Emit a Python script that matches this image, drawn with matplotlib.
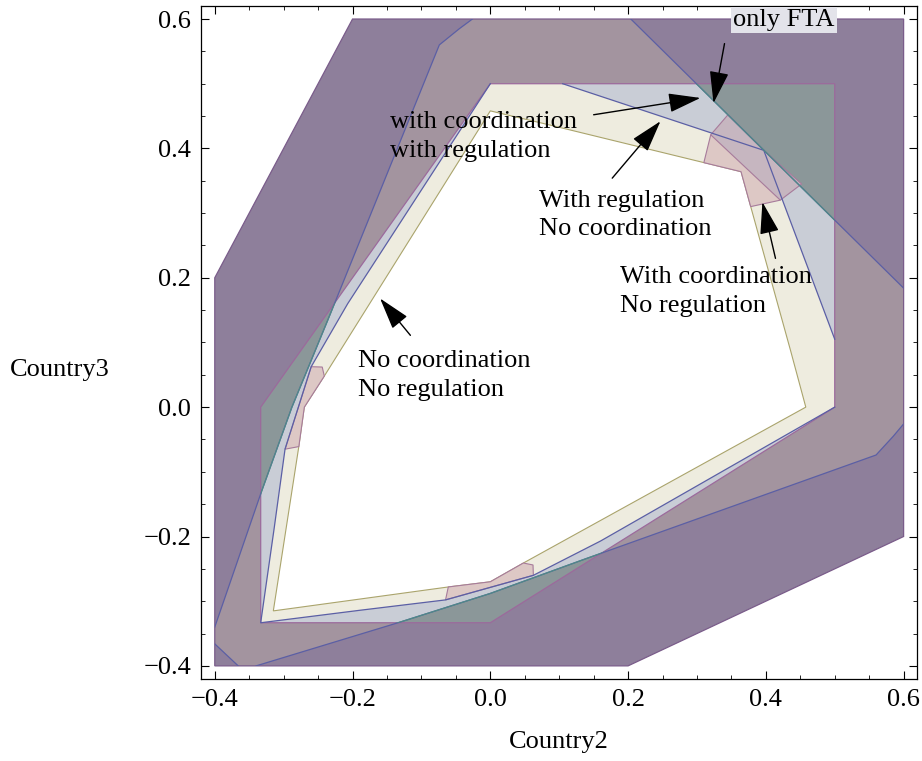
import numpy as np
import matplotlib.pyplot as plt
from matplotlib.patches import Polygon
from matplotlib.ticker import MultipleLocator, FuncFormatter

plt.rcParams['font.family'] = ['Liberation Serif', 'DejaVu Serif']

# outer feasible set (Country2, Country3)
outer_x = [-0.4, 0.2, 0.6, 0.6, -0.2, -0.4]
outer_y = [-0.4, -0.4, -0.2, 0.6, 0.6, 0.2]

# inner hexagon
hex_x = [-1/3, 0.0, 0.5, 0.5, 0.0, -1/3]
hex_y = [-1/3, -1/3, 0.0, 0.5, 0.5, 0.0]

# FTA region: left curve, top, FTA line, right edge, bottom curve, corner cut
fta_x = [-0.4, -0.333, -0.288, -0.235, -0.074, -0.045, -0.026, 0.204, 0.6, 0.6,
         0.585, 0.56, 0.137, 0.0, -0.133, -0.34, -0.366, -0.4]
fta_y = [-0.34, -0.133, 0.0, 0.137, 0.56, 0.585, 0.6, 0.6, 0.184, -0.026,
         -0.045, -0.074, -0.235, -0.288, -0.333, -0.4, -0.4, -0.366]

# regulation band (outer edge)
band_x = [0.0, 0.105, 0.397, 0.5, 0.5, 0.16, 0.0625, -0.065, -0.189, -1/3,
          -0.314, -0.298, -0.26, -0.207]
band_y = [0.5, 0.5, 0.397, 0.105, 0.0, -0.207, -0.26, -0.298, -0.314, -1/3,
          -0.189, -0.065, 0.0625, 0.16]

# no coordination / no regulation region
nn_x = [-0.315, -0.061, 0.0, 0.048, 0.458, 0.436, 0.364, 0.087, 0.0, -0.241, -0.270, -0.278]
nn_y = [-0.315, -0.278, -0.270, -0.241, 0.0, 0.087, 0.364, 0.436, 0.458, 0.048, 0.0, -0.061]

# coordination without regulation patches
pink_bot_x = [-0.061, 0.0, 0.048, 0.062, 0.0625, -0.065]
pink_bot_y = [-0.278, -0.270, -0.241, -0.244, -0.26, -0.298]
pink_left_x = [-0.278, -0.270, -0.241, -0.244, -0.26, -0.298]
pink_left_y = [-0.061, 0.0, 0.048, 0.062, 0.0625, -0.065]
pink_tr_x = [0.364, 0.310, 0.320, 0.397, 0.421, 0.378]
pink_tr_y = [0.364, 0.378, 0.421, 0.397, 0.320, 0.310]
mauve_tr_x = [0.320, 0.345, 0.397, 0.452, 0.421]
mauve_tr_y = [0.421, 0.452, 0.397, 0.345, 0.320]

fig = plt.figure(figsize=(9.22, 7.61), dpi=100)
ax = fig.add_axes([0.218, 0.108, 0.777, 0.884])

c_dark = '#8e7f9b'
c_mauve = '#a3949f'
c_green = '#8b9799'
c_light = '#c9cdd6'
c_beige = '#eeecdf'
c_pink = '#ddc8c5'
c_pmauve = '#c6b6c0'

out_p = Polygon(np.column_stack([outer_x, outer_y]), closed=True, fc=c_dark, ec='none', zorder=1)
ax.add_patch(out_p)
r1 = Polygon(np.column_stack([fta_x, fta_y]), closed=True, fc=c_mauve, ec='none', zorder=2)
ax.add_patch(r1)
r1.set_clip_path(out_p)
hex_p = Polygon(np.column_stack([hex_x, hex_y]), closed=True, fc=c_green, ec='none', zorder=3)
ax.add_patch(hex_p)
r2 = Polygon(np.column_stack([fta_x, fta_y]), closed=True, fc=c_light, ec='none', zorder=4)
ax.add_patch(r2)
r2.set_clip_path(hex_p)
ax.add_patch(Polygon(np.column_stack([band_x, band_y]), closed=True, fc=c_beige, ec='none', zorder=5))
ax.add_patch(Polygon(np.column_stack([nn_x, nn_y]), closed=True, fc='white', ec='#aaa46c', lw=0.8, zorder=6))
for px, py, c in [(pink_bot_x, pink_bot_y, c_pink), (pink_left_x, pink_left_y, c_pink),
                  (pink_tr_x, pink_tr_y, c_pink), (mauve_tr_x, mauve_tr_y, c_pmauve)]:
    ax.add_patch(Polygon(np.column_stack([px, py]), closed=True, fc=c, ec='#a77b9b', lw=0.8, zorder=7))

# boundary lines
ax.add_patch(Polygon(np.column_stack([outer_x, outer_y]), closed=True, fill=False, ec='#7a5c8a', lw=0.9, zorder=8))
ax.add_patch(Polygon(np.column_stack([hex_x, hex_y]), closed=True, fill=False, ec='#9c6a9c', lw=0.9, zorder=8))

blue = '#5b5fa5'
left_curve = (fta_x[:7], fta_y[:7])
fta_line = (fta_x[7:9], fta_y[7:9])
bot_curve = (fta_x[9:16], fta_y[9:16])
corner_cut = ([fta_x[16], fta_x[17]], [fta_y[16], fta_y[17]])
for lx, ly in [left_curve, fta_line, bot_curve, corner_cut]:
    ln, = ax.plot(lx, ly, color=blue, lw=0.9, zorder=8)
    ln.set_clip_path(out_p)
    ln2, = ax.plot(lx, ly, color='#4f8a86', lw=0.9, zorder=8.5)
    ln2.set_clip_path(hex_p)

ax.plot(band_x[1:4], band_y[1:4], color=blue, lw=0.9, zorder=8)
ax.plot(band_x[4:] + band_x[:1], band_y[4:] + band_y[:1], color=blue, lw=0.9, zorder=8)

# labels with arrows
fs = 19
arw = dict(arrowstyle='-|>,head_length=1.0,head_width=0.3', color='black', lw=1.0,
           mutation_scale=20, shrinkA=0, shrinkB=0)
ax.text(0.426, 0.598, 'only FTA', fontsize=fs, ha='center', va='center', zorder=10,
        bbox=dict(fc='#e3e3ea', ec='none', pad=1.5))
ax.annotate('', xy=(0.324, 0.470), xytext=(0.340, 0.562), arrowprops=arw, zorder=10)

ax.text(-0.145, 0.419, 'with coordination\nwith regulation', fontsize=fs, ha='left', va='center',
        linespacing=1.4, zorder=10)
ax.annotate('', xy=(0.305, 0.478), xytext=(0.150, 0.452), arrowprops=arw, zorder=10)

ax.text(0.070, 0.297, 'With regulation\nNo coordination', fontsize=fs, ha='left', va='center',
        linespacing=1.4, zorder=10)
ax.annotate('', xy=(0.247, 0.442), xytext=(0.177, 0.354), arrowprops=arw, zorder=10)

ax.text(0.189, 0.179, 'With coordination\nNo regulation', fontsize=fs, ha='left', va='center',
        linespacing=1.4, zorder=10)
ax.annotate('', xy=(0.395, 0.317), xytext=(0.414, 0.230), arrowprops=arw, zorder=10)

ax.text(-0.192, 0.049, 'No coordination\nNo regulation', fontsize=fs, ha='left', va='center',
        linespacing=1.4, zorder=10)
ax.annotate('', xy=(-0.160, 0.168), xytext=(-0.116, 0.111), arrowprops=arw, zorder=10)

ax.set_xlim(-0.42, 0.62)
ax.set_ylim(-0.42, 0.62)
tick_fmt = FuncFormatter(lambda v, pos: f'{v:.1f}'.replace('-', '\u2212') if abs(v) > 1e-9 else '0.0')
for a in (ax.xaxis, ax.yaxis):
    a.set_major_locator(MultipleLocator(0.2))
    a.set_minor_locator(MultipleLocator(0.05))
    a.set_major_formatter(tick_fmt)
ax.tick_params(which='both', direction='in', top=True, right=True, labelsize=fs, pad=7)
ax.tick_params(which='major', length=6, width=0.8)
ax.tick_params(which='minor', length=3, width=0.6)
for s in ax.spines.values():
    s.set_linewidth(0.9)

ax.set_xlabel('Country2', fontsize=fs, labelpad=15)
fig.text(0.065, 0.514, 'Country3', fontsize=fs, ha='center', va='center')

fig.savefig('out.png', dpi=100)
